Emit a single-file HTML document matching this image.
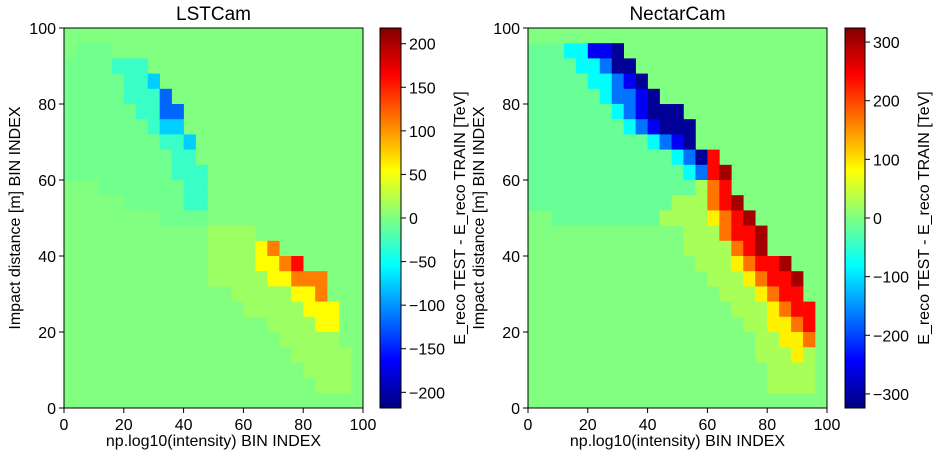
<!DOCTYPE html>
<html><head><meta charset="utf-8"><style>
body{margin:0;background:#fff;}
svg text{font-family:"Liberation Sans",sans-serif;fill:#000;}
</style></head><body>
<svg id="svg" width="941" height="456" xmlns="http://www.w3.org/2000/svg"></svg>
<script>
// ---- data ----
const xTicks = [0,20,40,60,80,100];
const yTicks = [0,20,40,60,80,100];
const lstCodes = "-=cba+yorR";
const lstValues = [-6,-30,-75,-120,-180,12,55,110,160,210];
const lstRows = ["","1:---","0:----===","0:-----==c","0:-----===b","0:------==bb","0:-------=cc","0:--------==c","0:---------==","0:---------===","3:-------==","5:-----==","8:----","12:++++","12:++++yo","12:++++yyor","12:+++++yyooo","14:+++++yyo","15:+++++yyy","17:++++yy","18:+++++","19:+++++","20:++++","21:+++",""];
const lstCbarTicks = [-200,-150,-100,-50,0,50,100,150,200];
const lstRange = 218;
const necCodes = "-=cba+yorR";
const necValues = [-15,-80,-170,-250,-310,25,90,170,240,300];
const necRows = ["","0:---==bba","0:----==caa","0:-----==cba","0:------=ccba","0:-------=cbaaa","0:--------=cbaaa","0:----------=cba","0:------------=car","0:-------------=crR","0:--------------+or","0:------------+++orR","2:---------++++yorR","13:+++orrR","13:++++orR","14:+++yorrR","15:+++yorrR","16:+++yorr","17:+++yorr","18:++yyor","19:++yyo","19:+++y+","20:++++","20:++++",""];
const necCbarTicks = [-300,-200,-100,0,100,200,300];
const necRange = 324;
const binStep = 4;

const svg = document.getElementById('svg');
const NS = "http://www.w3.org/2000/svg";
function mk(tag, attrs, parent){const e=document.createElementNS(NS,tag);for(const k in attrs)e.setAttribute(k,attrs[k]);(parent||svg).appendChild(e);return e;}
function clip(v){return Math.max(0,Math.min(1,v));}
function jet(t){const r=clip(1.5-Math.abs(4*t-3)),g=clip(1.5-Math.abs(4*t-2)),b=clip(1.5-Math.abs(4*t-1));return `rgb(${Math.round(r*255)},${Math.round(g*255)},${Math.round(b*255)})`;}

function panel(name, ax, title, codes, values, rows, cbTicks, range, cb){
  const x0=ax.x, x1=ax.x+ax.w, y0=ax.y, y1=ax.y+ax.h;
  const sx=v=>x0+v/100*ax.w, sy=v=>y1-v/100*ax.h;
  const col=v=>jet((v+range)/(2*range));
  const g=mk('g',{});
  
  
  const bg=mk('rect',{x:x0,y:y0,width:ax.w,height:ax.h,fill:col(0)},g);
  
  
  rows.forEach((row,ri)=>{
    if(!row)return;
    const [s,str]=row.split(':');const start=+s;
    for(let i=0;i<str.length;i++){
      const v=values[codes.indexOf(str[i])];
      const bx=(start+i)*binStep, by=100-(ri+1)*binStep;
      const c=mk('rect',{x:sx(bx),y:sy(by+binStep),width:sx(bx+binStep)-sx(bx)+0.3,height:sy(by)-sy(by+binStep)+0.3,fill:col(v)},g);
      
      
    }
  });
  const fr=mk('rect',{x:x0,y:y0,width:ax.w,height:ax.h,fill:'none',stroke:'#000','stroke-width':1});
  
  
  xTicks.forEach(t=>{
    mk('line',{x1:sx(t),x2:sx(t),y1:y1,y2:y1+5,stroke:'#000'});
    const tx=mk('text',{x:sx(t),y:y1+22,'font-size':16,'text-anchor':'middle'});tx.textContent=t;
    
    
  });
  yTicks.forEach(t=>{
    mk('line',{x1:x0-5,x2:x0,y1:sy(t),y2:sy(t),stroke:'#000'});
    const tx=mk('text',{x:x0-8,y:sy(t)+6,'font-size':16,'text-anchor':'end'});tx.textContent=t;
    
    
  });
  const ti=mk('text',{x:(x0+x1)/2,y:y0-8,'font-size':19,'text-anchor':'middle'});ti.textContent=title;
  
  
  const xl=mk('text',{x:(x0+x1)/2,y:y1+38,'font-size':16,'text-anchor':'middle'});xl.textContent='np.log10(intensity) BIN INDEX';
  
  
  const yl=mk('text',{x:0,y:0,'font-size':16,'text-anchor':'middle',transform:`translate(${x0-44},${(y0+y1)/2}) rotate(-90)`});yl.textContent='Impact distance [m] BIN INDEX';
  
  
  const cg=mk('g',{});
  
  
  const N=190;
  for(let i=0;i<N;i++){
    mk('rect',{x:cb.x,y:y0+i*ax.h/N,width:cb.w,height:ax.h/N+0.5,fill:jet(1-(i+0.5)/N)},cg);
  }
  mk('rect',{x:cb.x,y:y0,width:cb.w,height:ax.h,fill:'none',stroke:'#000'},cg);
  const cy=v=>y0+(range-v)/(2*range)*ax.h;
  cbTicks.forEach(t=>{
    mk('line',{x1:cb.x+cb.w,x2:cb.x+cb.w+5,y1:cy(t),y2:cy(t),stroke:'#000'},cg);
    const tx=mk('text',{x:cb.x+cb.w+8,y:cy(t)+6,'font-size':16},cg);tx.textContent=(t<0?'\u2212'+(-t):t);
    
    
  });
  const cl=mk('text',{x:0,y:0,'font-size':16,'text-anchor':'middle',transform:`translate(${cb.x+cb.w+64},${(y0+y1)/2}) rotate(-90)`});cl.textContent='E_reco TEST - E_reco TRAIN [TeV]';
  
  
}
panel('lstcam',{x:64,y:28,w:299,h:380},'LSTCam',lstCodes,lstValues,lstRows,lstCbarTicks,lstRange,{x:380,w:21});
panel('nectarcam',{x:528,y:28,w:299,h:380},'NectarCam',necCodes,necValues,necRows,necCbarTicks,necRange,{x:845,w:20});
</script>
</body></html>
